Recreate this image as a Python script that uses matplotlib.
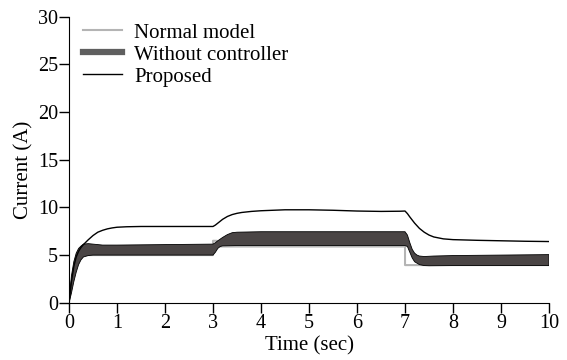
import numpy as np
import matplotlib
matplotlib.use("Agg")
import matplotlib.pyplot as plt
from matplotlib.lines import Line2D

plt.rcParams['font.family'] = ['Liberation Serif', 'DejaVu Serif']

# normal model reference current
t_normal = [0, 0.05, 0.1, 0.15, 0.2, 0.3, 0.5, 3.0, 3.0, 3.08, 3.15, 7.0, 7.0, 10.0]
i_normal = [0, 1.8, 3.3, 4.3, 4.8, 5.0, 5.0, 5.0, 6.5, 6.5, 5.9, 5.9, 3.95, 3.95]

# without controller: envelope of the oscillating current
t_upper = [0, 0.05, 0.1, 0.15, 0.2, 0.25, 0.3, 0.4, 0.5, 0.7, 1.0, 2.0, 3.0, 3.05,
           3.1, 3.2, 3.3, 3.4, 3.5, 4.0, 5.0, 6.0, 7.0, 7.05, 7.1, 7.15, 7.2,
           7.25, 7.3, 7.4, 7.6, 8.0, 9.0, 10.0]
i_upper = [0, 2.8, 4.3, 5.2, 5.7, 5.95, 6.15, 6.2, 6.15, 6.05, 6.05, 6.1, 6.15, 6.3,
           6.5, 6.85, 7.15, 7.35, 7.4, 7.45, 7.45, 7.45, 7.45, 7.1, 6.3, 5.6, 5.2,
           5.0, 4.9, 4.85, 4.9, 4.95, 5.0, 5.05]
t_lower = [0, 0.05, 0.1, 0.15, 0.2, 0.25, 0.3, 0.4, 0.5, 1.0, 2.0, 3.0, 3.05, 3.1,
           3.15, 3.2, 3.5, 4.0, 5.0, 6.0, 7.0, 7.05, 7.1, 7.15, 7.2, 7.3, 7.4,
           7.5, 8.0, 9.0, 10.0]
i_lower = [0, 1.0, 2.2, 3.2, 4.0, 4.5, 4.8, 4.95, 5.0, 5.0, 5.0, 5.0, 5.3, 5.7,
           5.9, 5.97, 6.0, 6.0, 6.0, 6.0, 6.0, 5.9, 5.3, 4.7, 4.3, 4.0, 3.9,
           3.88, 3.9, 3.9, 3.9]

# proposed controller
t_prop = [0, 0.05, 0.1, 0.15, 0.2, 0.25, 0.3, 0.4, 0.5, 0.6, 0.7, 0.8, 0.9, 1.0,
          1.2, 1.5, 2.0, 2.5, 3.0, 3.05, 3.1, 3.2, 3.3, 3.4, 3.5, 3.6, 3.8, 4.0,
          4.5, 5.0, 5.5, 6.0, 6.5, 6.9, 7.0, 7.05, 7.1, 7.2, 7.3, 7.4, 7.5, 7.6,
          7.8, 8.0, 8.5, 9.0, 9.5, 10.0]
i_prop = [0, 2.2, 3.8, 4.8, 5.4, 5.8, 6.1, 6.6, 7.05, 7.4, 7.6, 7.75, 7.85, 7.92,
          7.97, 8.0, 8.0, 8.0, 8.0, 8.15, 8.35, 8.75, 9.05, 9.25, 9.38, 9.47, 9.58,
          9.65, 9.75, 9.75, 9.7, 9.62, 9.58, 9.6, 9.62, 9.35, 9.0, 8.35, 7.8, 7.4,
          7.1, 6.9, 6.7, 6.62, 6.55, 6.5, 6.45, 6.42]

xticks = [0, 1, 2, 3, 4, 5, 6, 7, 8, 9, 10]
yticks = [0, 5, 10, 15, 20, 25, 30]

fig = plt.figure(figsize=(5.67, 3.6), dpi=100)
ax = fig.add_axes([0.1217, 0.159, 0.8466, 0.7946])

ax.plot(t_normal, i_normal, color='#b4b4b4', lw=1.5, zorder=2)
band_x = t_upper + t_lower[::-1]
band_y = i_upper + i_lower[::-1]
ax.fill(band_x, band_y, facecolor='#4a4545', edgecolor='black', lw=0.6, zorder=3)
ax.plot(t_prop, i_prop, color='black', lw=1.0, zorder=4)

ax.set_xlim(0, 10)
ax.set_ylim(0, 30)
ax.set_xticks(xticks)
ax.set_yticks(yticks)
ax.spines['top'].set_visible(False)
ax.spines['right'].set_visible(False)
ax.tick_params(direction='out', length=7, width=1, labelsize=14.5, pad=1)
ax.set_xlabel('Time (sec)', fontsize=15)
ax.set_ylabel('Current (A)', fontsize=15)
ax.xaxis.set_label_coords(0.5, -0.118)
ax.yaxis.set_label_coords(-0.075, 0.464)

handles = [Line2D([], [], color='#b4b4b4', lw=1.5),
           Line2D([], [], color='#5f5f5f', lw=4.5),
           Line2D([], [], color='black', lw=1.0)]
labels = ['Normal model', 'Without controller', 'Proposed']
ax.legend(handles, labels, loc='upper left', bbox_to_anchor=(0.029, 0.978),
          bbox_transform=ax.transAxes, frameon=False, fontsize=15,
          borderpad=0, borderaxespad=0, handlelength=1.87, handletextpad=0.58,
          labelspacing=0.12)

fig.savefig('out.png', dpi=100)
